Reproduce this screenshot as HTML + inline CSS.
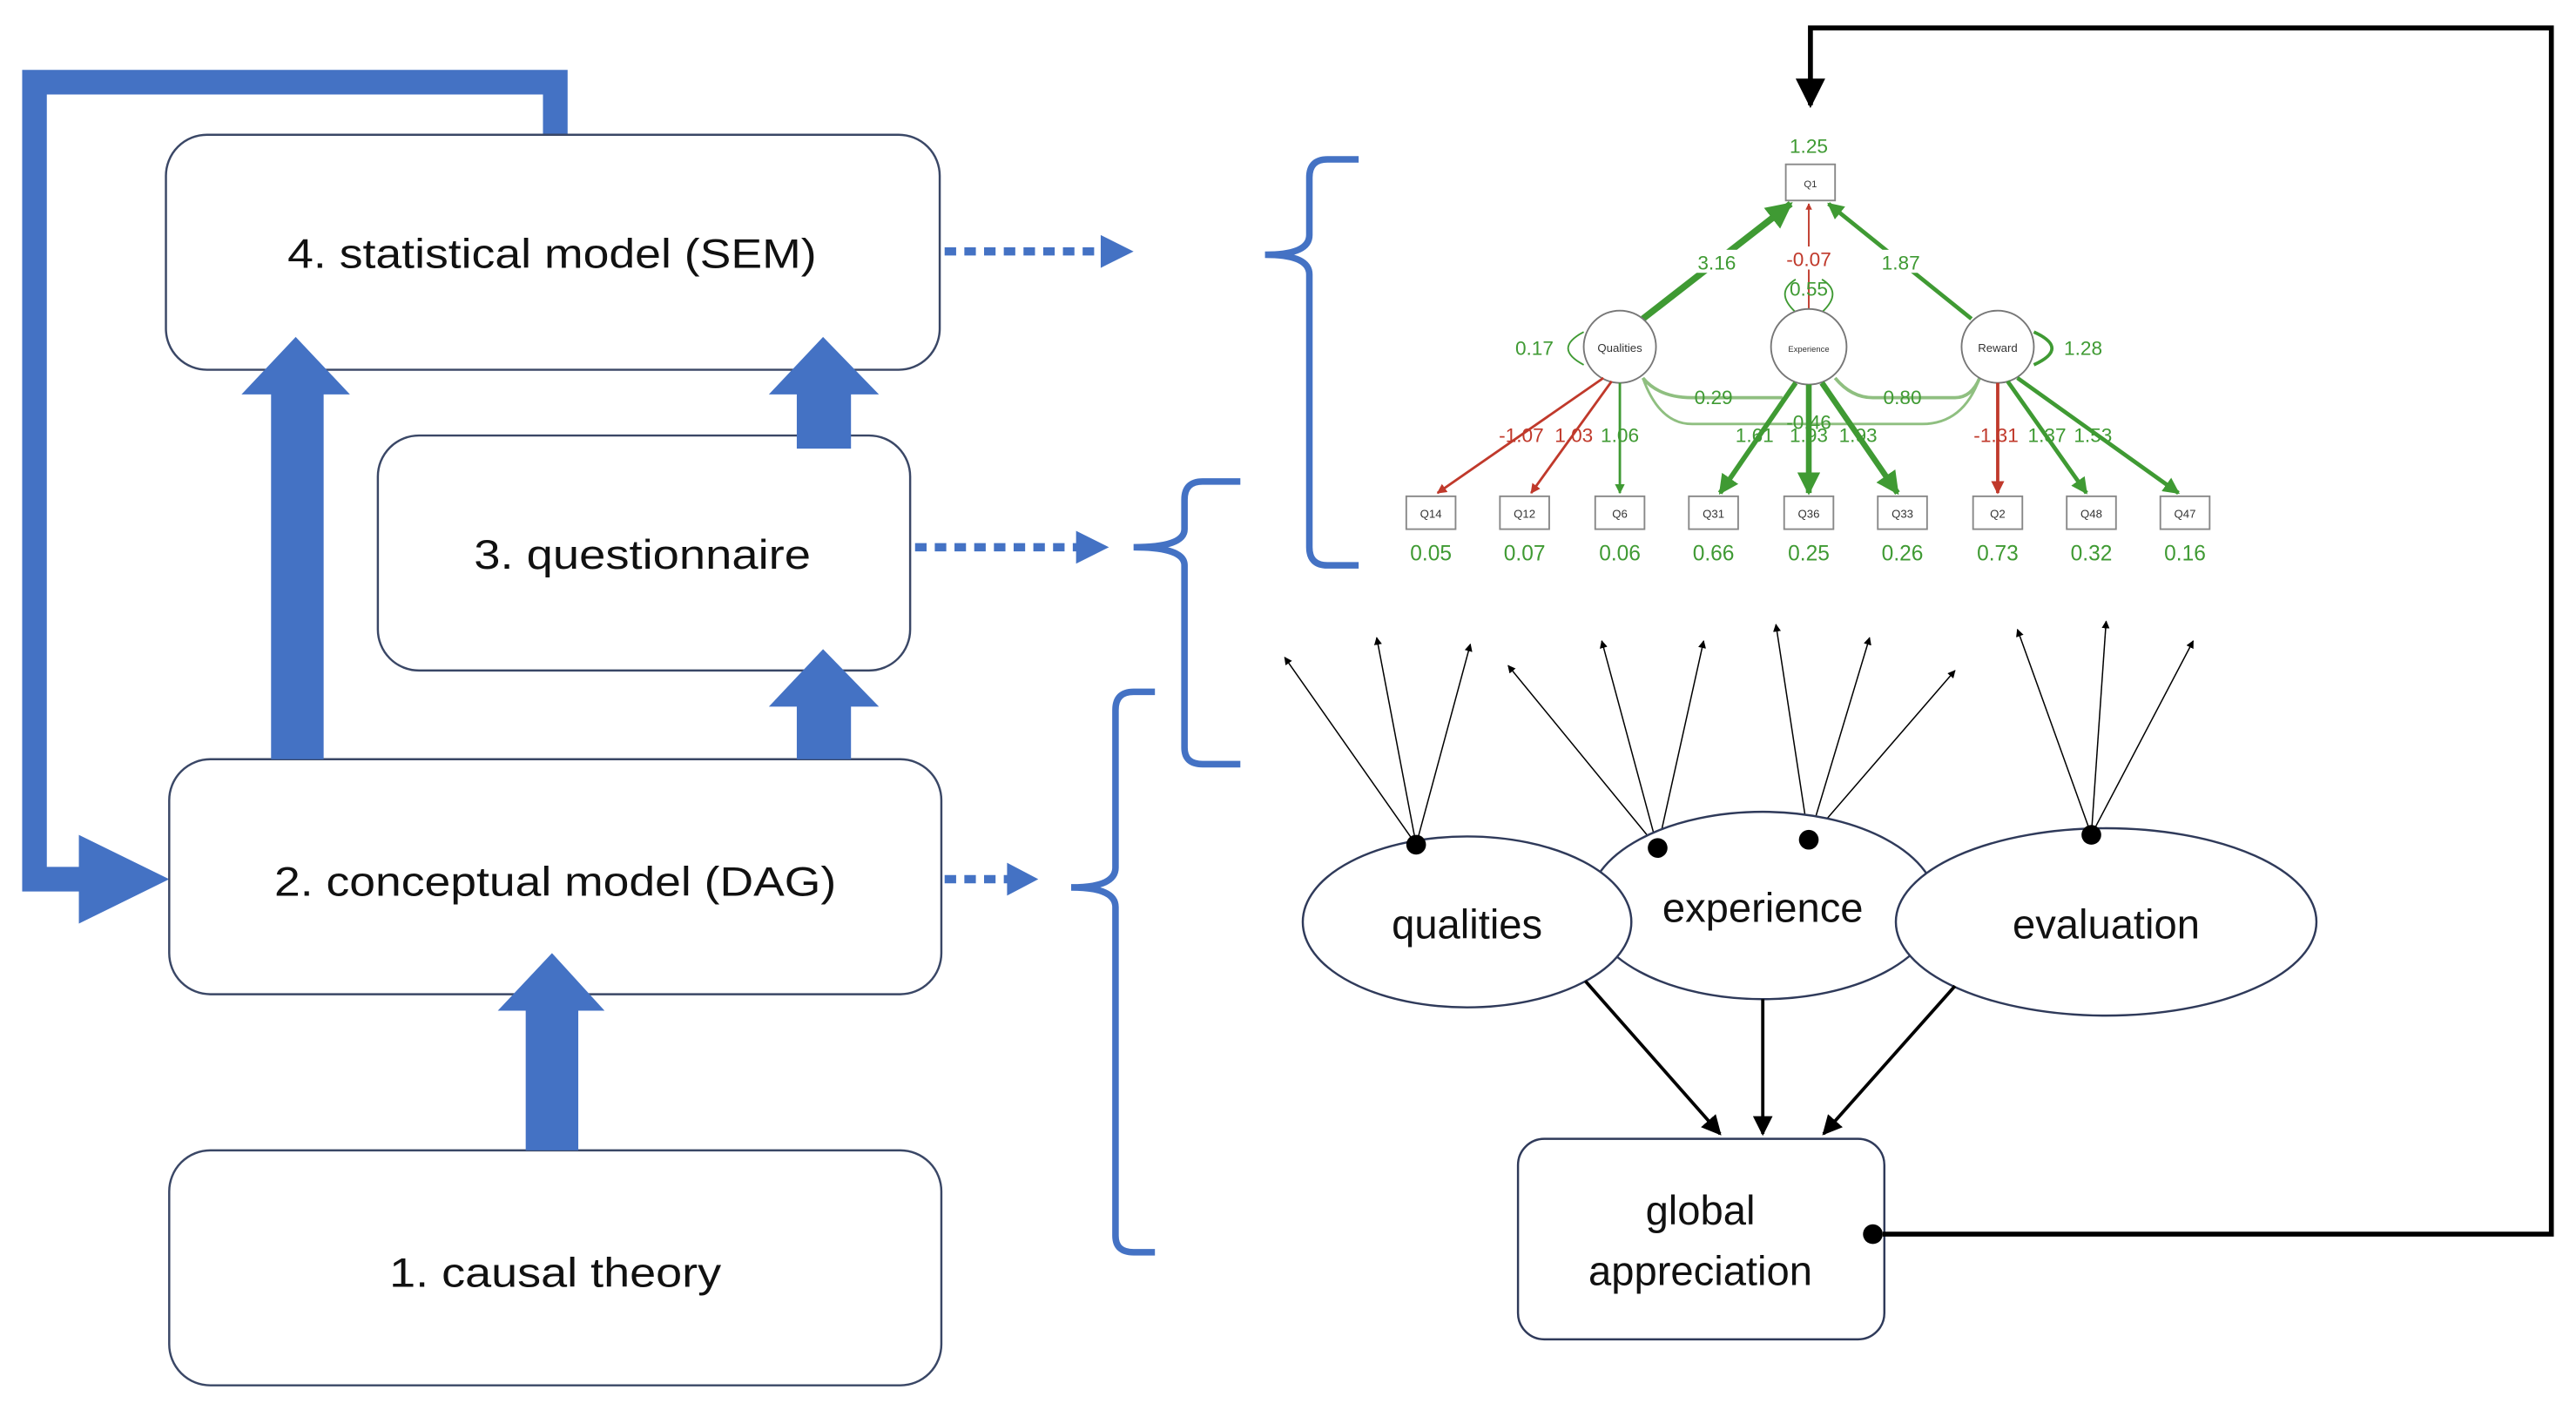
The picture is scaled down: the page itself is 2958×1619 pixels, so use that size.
<!DOCTYPE html>
<html><head><meta charset="utf-8"><style>
html,body{margin:0;padding:0;background:#fff;}
svg{display:block;}
text{font-family:"Liberation Sans",sans-serif;}
</style></head><body>
<svg width="2958" height="1619" viewBox="0 0 1568 858" preserveAspectRatio="none" xmlns="http://www.w3.org/2000/svg">
<defs>
<marker id="bk" viewBox="0 0 10 10" refX="9" refY="5" markerWidth="6" markerHeight="6" orient="auto-start-reverse"><path d="M0,0L10,5L0,10z" fill="#000"/></marker>
<marker id="g" viewBox="0 0 10 10" refX="9" refY="5" markerWidth="4" markerHeight="4" orient="auto-start-reverse"><path d="M0,0L10,5L0,10z" fill="#3f9a33"/></marker>
<marker id="r" viewBox="0 0 10 10" refX="9" refY="5" markerWidth="4" markerHeight="4" orient="auto-start-reverse"><path d="M0,0L10,5L0,10z" fill="#c0392b"/></marker>
</defs>
<!-- feedback thick blue -->
<path d="M338,82 V50 H21 V535 H60" fill="none" stroke="#4472c4" stroke-width="15"/>
<polygon points="48,508 103,535 48,562" fill="#4472c4"/>
<!-- boxes -->
<g fill="#fff" stroke="#3a4766" stroke-width="1.3">
<rect x="101" y="82" width="471" height="143" rx="25"/>
<rect x="230" y="265" width="324" height="143" rx="25"/>
<rect x="103" y="462" width="470" height="143" rx="25"/>
<rect x="103" y="700" width="470" height="143" rx="25"/>
</g>
<!-- up arrows -->
<g fill="#4472c4">
<rect x="165" y="238" width="32" height="224"/><polygon points="147,240 180,205 213,240"/>
<rect x="485" y="238" width="33" height="35"/><polygon points="468,240 501,205 535,240"/>
<rect x="485" y="428" width="33" height="34"/><polygon points="468,430 501,395 535,430"/>
<rect x="320" y="613" width="32" height="87"/><polygon points="303,615 336,580 368,615"/>
</g>
<g font-size="25" fill="#111" text-anchor="middle">
<text x="336" y="163" textLength="322" lengthAdjust="spacingAndGlyphs">4. statistical model (SEM)</text>
<text x="391" y="346" textLength="205" lengthAdjust="spacingAndGlyphs">3. questionnaire</text>
<text x="338" y="545" textLength="342" lengthAdjust="spacingAndGlyphs">2. conceptual model (DAG)</text>
<text x="338" y="783" textLength="202" lengthAdjust="spacingAndGlyphs">1. causal theory</text>
</g>
<!-- dotted arrows -->
<g stroke="#4472c4" stroke-width="5" stroke-dasharray="7,5" fill="none">
<line x1="575" y1="153" x2="672" y2="153"/>
<line x1="557" y1="333" x2="656" y2="333"/>
<line x1="575" y1="535" x2="614" y2="535"/>
</g>
<g fill="#4472c4">
<polygon points="670,143 690,153 670,163"/>
<polygon points="655,323 675,333 655,343"/>
<polygon points="613,525 632,535 613,545"/>
</g>
<!-- braces -->
<g fill="none" stroke="#4472c4" stroke-width="4">
<path d="M827,97 H808 Q797,97 797,108 V143 Q797,155 770,155 Q797,155 797,167 V333 Q797,344 808,344 H827"/>
<path d="M755,293 H732 Q721,293 721,304 V322 Q721,333 690,333 Q721,333 721,344 V455 Q721,465 732,465 H755"/>
<path d="M703,421 H690 Q679,421 679,432 V528 Q679,540 652,540 Q679,540 679,552 V752 Q679,762 690,762 H703"/>
</g>
<!-- SEM plot -->
<g font-size="12" text-anchor="middle">
<rect x="1087" y="100" width="30" height="22" fill="#fff" stroke="#888"/>
<text x="1102" y="114" font-size="6" fill="#333">Q1</text>
<text x="1101" y="93" fill="#3f9a33">1.25</text>
<line x1="1000" y1="194" x2="1090" y2="124" stroke="#3f9a33" stroke-width="4" marker-end="url(#g)"/>
<line x1="1101" y1="189" x2="1101" y2="124" stroke="#c0392b" stroke-width="1" marker-end="url(#r)"/>
<line x1="1200" y1="194" x2="1113" y2="124" stroke="#3f9a33" stroke-width="2.5" marker-end="url(#g)"/>
<rect x="1028" y="152" width="34" height="14" fill="#fff"/><text x="1045" y="164" fill="#3f9a33">3.16</text>
<rect x="1082" y="150" width="38" height="14" fill="#fff"/><text x="1101" y="162" fill="#c0392b">-0.07</text>
<rect x="1140" y="152" width="34" height="14" fill="#fff"/><text x="1157" y="164" fill="#3f9a33">1.87</text>
<text x="1101" y="180" fill="#3f9a33">0.55</text>
<path d="M1093,190 Q1080,178 1093,170 M1109,190 Q1122,178 1109,170" fill="none" stroke="#3f9a33"/>
<path d="M964,202 Q945,212 964,222" fill="none" stroke="#3f9a33"/>
<path d="M1238,202 Q1260,212 1238,222" fill="none" stroke="#3f9a33" stroke-width="2"/>
<text x="934" y="216" fill="#3f9a33">0.17</text>
<text x="1268" y="216" fill="#3f9a33">1.28</text>
<path d="M1000,230 Q1010,258 1030,258 H1170 Q1195,258 1205,230" fill="none" stroke="#8fbf80" stroke-width="1.5"/>
<path d="M1000,230 Q1010,242 1030,242 H1085" fill="none" stroke="#8fbf80" stroke-width="2"/>
<path d="M1117,230 Q1127,242 1140,242 H1190 Q1200,242 1205,230" fill="none" stroke="#8fbf80" stroke-width="2"/>
<text x="1043" y="246" fill="#3f9a33">0.29</text>
<text x="1158" y="246" fill="#3f9a33">0.80</text>
<text x="1101" y="261" fill="#3f9a33">-0.46</text>
<g fill="#fff" stroke="#777">
<circle cx="986" cy="211" r="22"/><circle cx="1101" cy="211" r="23"/><circle cx="1216" cy="211" r="22"/>
</g>
<text x="986" y="214" font-size="7" fill="#333">Qualities</text>
<text x="1101" y="214" font-size="5" fill="#333">Experience</text>
<text x="1216" y="214" font-size="7" fill="#333">Reward</text>
<line x1="976" y1="230" x2="875" y2="300" stroke="#c0392b" stroke-width="1.5" marker-end="url(#r)"/>
<line x1="981" y1="232" x2="932" y2="300" stroke="#c0392b" stroke-width="1.5" marker-end="url(#r)"/>
<line x1="986" y1="233" x2="986" y2="300" stroke="#3f9a33" stroke-width="1.5" marker-end="url(#g)"/>
<line x1="1093" y1="233" x2="1047" y2="300" stroke="#3f9a33" stroke-width="3" marker-end="url(#g)"/>
<line x1="1101" y1="234" x2="1101" y2="300" stroke="#3f9a33" stroke-width="3.5" marker-end="url(#g)"/>
<line x1="1109" y1="233" x2="1155" y2="300" stroke="#3f9a33" stroke-width="3.5" marker-end="url(#g)"/>
<line x1="1216" y1="233" x2="1216" y2="300" stroke="#c0392b" stroke-width="2" marker-end="url(#r)"/>
<line x1="1222" y1="232" x2="1270" y2="300" stroke="#3f9a33" stroke-width="2.5" marker-end="url(#g)"/>
<line x1="1228" y1="230" x2="1326" y2="300" stroke="#3f9a33" stroke-width="2.5" marker-end="url(#g)"/>
<text x="926" y="269" fill="#c0392b">-1.07</text><text x="958" y="269" fill="#c0392b">1.03</text><text x="986" y="269" fill="#3f9a33">1.06</text>
<text x="1068" y="269" fill="#3f9a33">1.61</text><text x="1101" y="269" fill="#3f9a33">1.93</text><text x="1131" y="269" fill="#3f9a33">1.93</text>
<text x="1215" y="269" fill="#c0392b">-1.31</text><text x="1246" y="269" fill="#3f9a33">1.37</text><text x="1274" y="269" fill="#3f9a33">1.53</text>
<g fill="#fff" stroke="#888">
<rect x="856" y="302" width="30" height="20"/><rect x="913" y="302" width="30" height="20"/><rect x="971" y="302" width="30" height="20"/>
<rect x="1028" y="302" width="30" height="20"/><rect x="1086" y="302" width="30" height="20"/><rect x="1143" y="302" width="30" height="20"/>
<rect x="1201" y="302" width="30" height="20"/><rect x="1258" y="302" width="30" height="20"/><rect x="1315" y="302" width="30" height="20"/>
</g>
<g font-size="7" fill="#333">
<text x="871" y="315">Q14</text><text x="928" y="315">Q12</text><text x="986" y="315">Q6</text><text x="1043" y="315">Q31</text><text x="1101" y="315">Q36</text><text x="1158" y="315">Q33</text><text x="1216" y="315">Q2</text><text x="1273" y="315">Q48</text><text x="1330" y="315">Q47</text>
</g>
<g fill="#3f9a33" font-size="13">
<text x="871" y="341">0.05</text><text x="928" y="341">0.07</text><text x="986" y="341">0.06</text><text x="1043" y="341">0.66</text><text x="1101" y="341">0.25</text><text x="1158" y="341">0.26</text><text x="1216" y="341">0.73</text><text x="1273" y="341">0.32</text><text x="1330" y="341">0.16</text>
</g>
</g>
<!-- lower diagram -->
<g stroke="#000" stroke-width="0.8" marker-end="url(#bk)">
<line x1="862" y1="514" x2="782" y2="400"/><line x1="862" y1="514" x2="838" y2="388"/><line x1="862" y1="514" x2="895" y2="392"/>
<line x1="1009" y1="516" x2="918" y2="405"/><line x1="1009" y1="516" x2="975" y2="390"/><line x1="1009" y1="516" x2="1037" y2="390"/>
<line x1="1101" y1="511" x2="1081" y2="380"/><line x1="1101" y1="511" x2="1138" y2="388"/><line x1="1101" y1="511" x2="1190" y2="408"/>
<line x1="1273" y1="508" x2="1228" y2="383"/><line x1="1273" y1="508" x2="1282" y2="378"/><line x1="1273" y1="508" x2="1335" y2="390"/>
</g>
<g fill="#fff" stroke="#2f3a5a" stroke-width="1.3">
<ellipse cx="1073" cy="551" rx="106" ry="57"/>
<ellipse cx="893" cy="561" rx="100" ry="52"/>
<ellipse cx="1282" cy="561" rx="128" ry="57"/>
<rect x="924" y="693" width="223" height="122" rx="16"/>
</g>
<g font-size="25" fill="#111" text-anchor="middle">
<text x="893" y="571">qualities</text>
<text x="1073" y="561">experience</text>
<text x="1282" y="571">evaluation</text>
<text x="1035" y="745">global</text>
<text x="1035" y="782">appreciation</text>
</g>
<g fill="#000"><circle cx="862" cy="514" r="6"/><circle cx="1009" cy="516" r="6"/><circle cx="1101" cy="511" r="6"/><circle cx="1273" cy="508" r="6"/><circle cx="1140" cy="751" r="6"/></g>
<g stroke="#000" stroke-width="2" fill="none" marker-end="url(#bk)">
<line x1="965" y1="597" x2="1047" y2="690"/>
<line x1="1073" y1="608" x2="1073" y2="690"/>
<line x1="1190" y1="600" x2="1110" y2="690"/>
</g>
<path d="M1146,751 H1553 V17 H1102 V64" fill="none" stroke="#000" stroke-width="3" marker-end="url(#bk)"/>
</svg>
</body></html>
